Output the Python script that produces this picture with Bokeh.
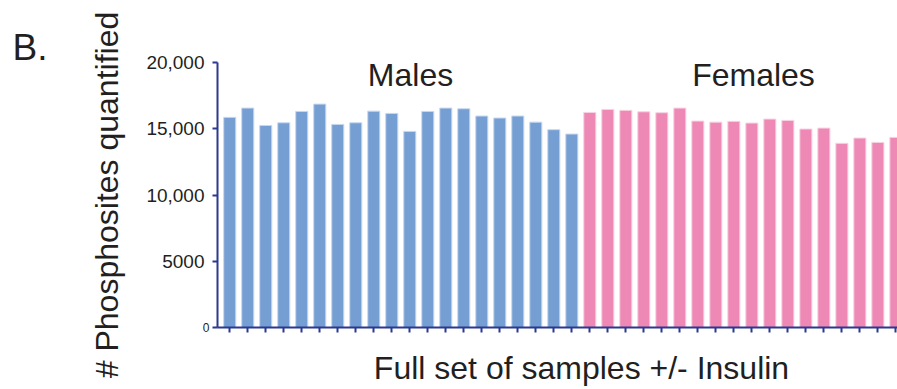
from bokeh.plotting import figure
from bokeh.models import ColumnDataSource, Range1d, FixedTicker, Label
from bokeh.embed import file_html
from bokeh.resources import INLINE

# ---- data ----
male_values = [15860, 16560, 15250, 15450, 16310, 16860, 15330, 15450, 16330, 16160,
               14800, 16310, 16560, 16510, 15960, 15810, 15960, 15500, 14930, 14600]
female_values = [16230, 16460, 16390, 16280, 16210, 16560, 15580, 15500, 15560, 15430,
                 15730, 15630, 14980, 15050, 13900, 14300, 13970, 14350]
y_ticks = [0, 5000, 10000, 15000, 20000]
y_tick_labels = ["0", "5000", "10,000", "15,000", "20,000"]
group_names = ["Males", "Females"]
panel_letter = "B."
y_title = "# Phosphosites quantified"
x_title = "Full set of samples +/- Insulin"

BLUE = "#759ed3"
PINK = "#ee88b4"
AXIS = "#2b3990"
TXT = "#231f20"
FONT = "Liberation Sans"

n_m = len(male_values)
n_f = len(female_values)
xs = list(range(n_m + n_f))
vals = male_values + female_values
fills = [BLUE] * n_m + [PINK] * n_f
lines = ["#c8d8ee"] * n_m + ["#f8d2e3"] * n_f
src = ColumnDataSource(dict(x=xs, top=vals, fill=fills, line=lines))

W, H = 897, 389
X0, X1 = -0.68, 37.09
p = figure(width=W, height=H, output_backend="svg", toolbar_location=None,
           x_range=Range1d(X0, X1), y_range=Range1d(0, 20000),
           min_border_left=217, min_border_right=0, min_border_top=62, min_border_bottom=62)
p.outline_line_color = None
p.grid.visible = False
p.background_fill_color = "white"
p.border_fill_color = "white"

p.vbar(x="x", top="top", width=0.67, bottom=0, source=src,
       fill_color="fill", line_color="line", line_width=1)

# y axis
ya = p.yaxis[0]
ya.ticker = FixedTicker(ticks=y_ticks)
ya.major_label_overrides = {t: (l if t != 0 else "") for t, l in zip(y_ticks, y_tick_labels)}
ya.axis_line_color = AXIS
ya.axis_line_width = 2
ya.major_tick_line_color = AXIS
ya.major_tick_line_width = 2
ya.major_tick_out = 5
ya.major_tick_in = 0
ya.minor_tick_line_color = None
ya.major_label_text_font = FONT
ya.major_label_text_font_size = "19px"
ya.major_label_text_color = TXT
ya.major_label_standoff = 8
ya.axis_label = y_title
ya.axis_label_text_font = FONT
ya.axis_label_text_font_size = "32px"
ya.axis_label_text_font_style = "normal"
ya.axis_label_text_color = TXT
ya.axis_label_standoff = 18

# x axis
xa = p.xaxis[0]
xa.ticker = FixedTicker(ticks=xs)
xa.major_label_overrides = {i: "" for i in xs}
xa.axis_line_color = AXIS
xa.axis_line_width = 2
xa.major_tick_line_color = AXIS
xa.major_tick_line_width = 2
xa.major_tick_out = 5
xa.major_tick_in = 0
xa.minor_tick_line_color = None

# helpers: image pixel -> data
def xd(px):
    return X0 + (px - 217) / 680 * (X1 - X0)

def yd(py):
    return (327 - py) / 265 * 20000

def lab(text, x_px, base_px, size, align="center", side=None):
    # alphabetic labels render ~0.39em below their anchor; compensate
    l = Label(x=xd(x_px), y=yd(base_px - 0.39 * size), text=text, text_font=FONT,
              text_font_size=f"{size}px", text_color=TXT, text_align=align,
              text_baseline="alphabetic")
    if side:
        p.add_layout(l, side)
    else:
        p.add_layout(l)

# small "0" tick label (in the left side panel so it is not clipped)
p.add_layout(Label(x=xd(209), y=y_ticks[0], text=y_tick_labels[0], text_font=FONT,
                   text_font_size="12px", text_color=TXT, text_align="right",
                   text_baseline="middle"), "left")
lab(panel_letter, 12, 61.7, 37, align="left", side="left")
lab(x_title, 581, 379.5, 32, side="below")
# group names inside the frame, kept just below its top edge
lab(group_names[0], 410, 86.5, 32)
lab(group_names[1], 753, 86.5, 32)

open("out.html", "w").write(file_html(p, INLINE))
